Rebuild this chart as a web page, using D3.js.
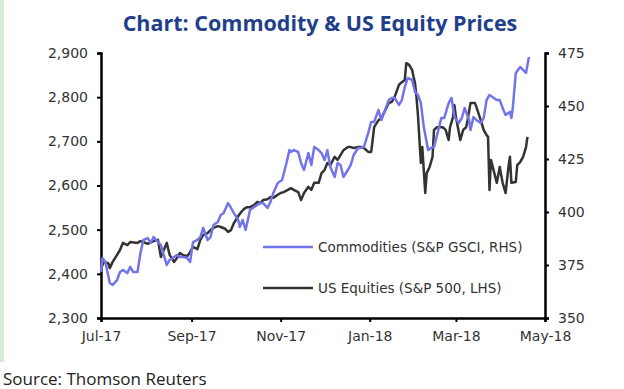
<!DOCTYPE html>
<html>
<head>
<meta charset="utf-8">
<script src="https://cdn.jsdelivr.net/npm/d3@7"></script>
<style>
  body { margin: 0; background: #fff; }
  svg { display: block; }
</style>
</head>
<body>
<div id="chart"></div>
<script>
// S&P 500 (left axis)
var eqDates = ["2017-07-01","2017-07-03","2017-07-06","2017-07-07","2017-07-09","2017-07-12","2017-07-14","2017-07-16","2017-07-19","2017-07-21",
  "2017-07-26","2017-07-28","2017-08-02","2017-08-06","2017-08-09","2017-08-11","2017-08-13","2017-08-15","2017-08-17","2017-08-20",
  "2017-08-22","2017-08-24","2017-08-26","2017-08-29","2017-08-31","2017-09-02","2017-09-05","2017-09-07","2017-09-09","2017-09-12",
  "2017-09-14","2017-09-16","2017-09-19","2017-09-21","2017-09-24","2017-09-26","2017-09-28","2017-09-30","2017-10-03","2017-10-05",
  "2017-10-07","2017-10-09","2017-10-11","2017-10-14","2017-10-16","2017-10-18","2017-10-20","2017-10-23","2017-10-25","2017-10-27",
  "2017-10-30","2017-11-01","2017-11-03","2017-11-06","2017-11-08","2017-11-10","2017-11-13","2017-11-15","2017-11-17","2017-11-20",
  "2017-11-22","2017-11-24","2017-11-27","2017-11-29","2017-12-01","2017-12-03","2017-12-05","2017-12-08","2017-12-10","2017-12-12",
  "2017-12-14","2017-12-17","2017-12-19","2017-12-21","2017-12-24","2017-12-26","2017-12-28","2017-12-31","2018-01-02","2018-01-03",
  "2018-01-04","2018-01-07","2018-01-09","2018-01-11","2018-01-14","2018-01-16","2018-01-18","2018-01-21","2018-01-23","2018-01-25",
  "2018-01-26","2018-01-28","2018-01-30","2018-01-31","2018-02-01","2018-02-02","2018-02-03","2018-02-05","2018-02-06","2018-02-08",
  "2018-02-09","2018-02-11","2018-02-13","2018-02-14","2018-02-16","2018-02-20","2018-02-22","2018-02-24","2018-02-25","2018-02-27",
  "2018-02-28","2018-03-01","2018-03-04","2018-03-06","2018-03-08","2018-03-09","2018-03-11","2018-03-14","2018-03-15","2018-03-18",
  "2018-03-20","2018-03-22","2018-03-23","2018-03-24","2018-03-25","2018-03-28","2018-03-29","2018-03-31","2018-04-02","2018-04-04",
  "2018-04-06","2018-04-07","2018-04-08","2018-04-11","2018-04-12","2018-04-14","2018-04-16","2018-04-18","2018-04-19"];
var eqValues = [2413,2427,2424,2413,2427,2443,2454,2470,2465,2472,
  2470,2474,2468,2474,2477,2438,2454,2470,2443,2427,
  2436,2447,2443,2440,2449,2461,2456,2477,2488,2492,
  2499,2504,2508,2506,2502,2495,2499,2515,2531,2540,
  2547,2551,2551,2556,2563,2560,2567,2569,2574,2572,
  2579,2583,2585,2590,2594,2590,2585,2567,2583,2597,
  2590,2606,2606,2628,2635,2651,2646,2665,2658,2669,
  2680,2687,2687,2685,2687,2687,2685,2676,2676,2703,
  2732,2748,2753,2766,2787,2789,2800,2828,2834,2839,
  2877,2873,2862,2846,2832,2800,2760,2651,2687,2583,
  2628,2642,2665,2726,2732,2732,2726,2703,2732,2755,
  2782,2755,2703,2726,2732,2748,2787,2787,2778,2748,
  2726,2714,2710,2590,2658,2619,2606,2642,2606,2583,
  2642,2665,2606,2608,2646,2653,2665,2687,2710];

// S&P GSCI (right axis)
var comDates = ["2017-07-01","2017-07-02","2017-07-04","2017-07-07","2017-07-09","2017-07-12","2017-07-14","2017-07-16","2017-07-19","2017-07-21",
  "2017-07-23","2017-07-26","2017-07-28","2017-07-30","2017-08-02","2017-08-04","2017-08-06","2017-08-09","2017-08-11","2017-08-13",
  "2017-08-15","2017-08-17","2017-08-20","2017-08-22","2017-08-24","2017-08-26","2017-08-29","2017-08-31","2017-09-02","2017-09-05",
  "2017-09-07","2017-09-09","2017-09-12","2017-09-14","2017-09-16","2017-09-19","2017-09-21","2017-09-23","2017-09-26","2017-09-28",
  "2017-09-30","2017-10-03","2017-10-04","2017-10-06","2017-10-08","2017-10-10","2017-10-11","2017-10-14","2017-10-16","2017-10-18",
  "2017-10-20","2017-10-23","2017-10-25","2017-10-27","2017-10-30","2017-11-02","2017-11-05","2017-11-07","2017-11-08","2017-11-10",
  "2017-11-13","2017-11-15","2017-11-17","2017-11-20","2017-11-22","2017-11-24","2017-11-27","2017-11-29","2017-12-01","2017-12-03",
  "2017-12-05","2017-12-08","2017-12-10","2017-12-12","2017-12-14","2017-12-17","2017-12-19","2017-12-21","2017-12-24","2017-12-26",
  "2017-12-28","2017-12-31","2018-01-02","2018-01-04","2018-01-07","2018-01-09","2018-01-11","2018-01-14","2018-01-16","2018-01-18",
  "2018-01-21","2018-01-23","2018-01-25","2018-01-27","2018-01-30","2018-02-01","2018-02-03","2018-02-05","2018-02-07","2018-02-10",
  "2018-02-12","2018-02-14","2018-02-17","2018-02-19","2018-02-21","2018-02-24","2018-02-26","2018-02-28","2018-03-03","2018-03-05",
  "2018-03-07","2018-03-10","2018-03-11","2018-03-13","2018-03-15","2018-03-18","2018-03-20","2018-03-22","2018-03-24","2018-03-27",
  "2018-03-29","2018-03-31","2018-04-02","2018-04-04","2018-04-07","2018-04-08","2018-04-09","2018-04-11","2018-04-14","2018-04-16",
  "2018-04-18","2018-04-20"];
var comValues = [371.7,378.3,376.4,366.5,365.6,367.9,371.7,372.6,371.2,374.1,
  371.7,371.7,380.7,386.8,387.7,385.4,388.2,385.8,384.4,379.7,
  375.0,377.4,378.8,379.7,378.8,378.8,378.3,376.4,385.8,386.8,
  388.2,392.5,386.8,388.2,393.9,395.3,398.6,399.5,404.2,401.9,
  399.5,396.2,392.9,396.2,391.5,397.6,400.9,402.4,403.3,404.2,
  404.2,401.9,404.7,409.0,413.7,415.1,423.1,429.2,428.3,429.2,
  428.3,423.1,419.8,427.8,422.2,430.7,429.2,427.8,424.5,429.2,
  421.2,416.5,423.1,422.2,416.5,419.8,422.2,426.9,430.2,430.2,
  430.7,437.3,442.5,442.5,448.1,443.4,447.2,452.8,453.8,453.8,
  450.5,452.8,459.0,463.2,462.3,456.6,455.2,451.4,440.1,429.2,
  430.2,430.7,438.7,444.3,444.3,451.4,453.8,444.8,442.0,444.3,
  449.1,443.4,438.7,444.8,443.4,442.0,444.3,452.8,455.2,453.8,
  452.8,452.8,449.1,445.8,447.2,444.3,449.5,465.6,468.4,467.0,
  465.6,473.1];

var leftTicks = [2300, 2400, 2500, 2600, 2700, 2800, 2900];
var rightTicks = [350, 375, 400, 425, 450, 475];
var monthTicks = ["2017-07-01","2017-09-01","2017-11-01","2018-01-01","2018-03-01","2018-05-01"];

var seriesNames = ["Commodities (S&P GSCI, RHS)", "US Equities (S&P 500, LHS)"];
var seriesColors = ["#7474ea", "#333333"];

var W = 624, H = 389;
var margin = {top: 53, left: 101, right: 79, bottom: 71};
var width = W - margin.left - margin.right,
    height = H - margin.top - margin.bottom;

var parse = d3.timeParse("%Y-%m-%d");
var fmtTick = d3.timeFormat("%b-%y");

var eqData = eqDates.map(function(d, i) { return {date: parse(d), value: eqValues[i]}; });
var comData = comDates.map(function(d, i) { return {date: parse(d), value: comValues[i]}; });

var svg = d3.select("#chart").append("svg")
    .attr("width", W)
    .attr("height", H);

// green strip on the left edge
svg.append("rect")
    .attr("x", 0).attr("y", 0)
    .attr("width", 4).attr("height", 362)
    .attr("fill", "#d6ebd6");

svg.append("text")
    .attr("x", margin.left + width / 2 - 3)
    .attr("y", 31)
    .attr("text-anchor", "middle")
    .style("font-family", "'Liberation Sans Narrow', 'Open Sans', sans-serif")
    .style("font-weight", "bold")
    .style("font-size", "21.5px")
    .attr("fill", "#1f3f8c")
    .text("Chart: Commodity & US Equity Prices");

var g = svg.append("g")
    .attr("transform", "translate(" + margin.left + "," + margin.top + ")");

var x = d3.scaleTime()
    .domain([parse("2017-07-01"), parse("2018-05-01")])
    .range([0, width]);

var yL = d3.scaleLinear().domain([2300, 2900]).range([height, 0]);
var yR = d3.scaleLinear().domain([350, 475]).range([height, 0]);

var axisFont = function(sel) {
  sel.selectAll("text")
    .style("font-family", "'DejaVu Sans', sans-serif")
    .style("font-size", "14px")
    .attr("fill", "#333");
  sel.selectAll("line").attr("stroke", "#000").attr("stroke-width", 2);
  sel.select(".domain").attr("stroke", "#000").attr("stroke-width", 2.5);
};

g.append("g")
    .call(d3.axisLeft(yL).tickValues(leftTicks).tickFormat(d3.format(",")).tickSizeOuter(0).tickSize(4).tickPadding(9))
    .call(axisFont);

g.append("g")
    .attr("transform", "translate(" + width + ",0)")
    .call(d3.axisRight(yR).tickValues(rightTicks).tickSizeOuter(0).tickSize(4).tickPadding(9))
    .call(axisFont);

g.append("g")
    .attr("transform", "translate(0," + height + ")")
    .call(d3.axisBottom(x).tickValues(monthTicks.map(parse)).tickFormat(fmtTick).tickSizeOuter(0).tickSize(4).tickPadding(9))
    .call(axisFont);

var lineL = d3.line().x(function(d) { return x(d.date); }).y(function(d) { return yL(d.value); });
var lineR = d3.line().x(function(d) { return x(d.date); }).y(function(d) { return yR(d.value); });

g.append("path")
    .datum(eqData)
    .attr("fill", "none")
    .attr("stroke", seriesColors[1])
    .attr("stroke-width", 2.5)
    .attr("stroke-linejoin", "round")
    .attr("d", lineL);

g.append("path")
    .datum(comData)
    .attr("fill", "none")
    .attr("stroke", seriesColors[0])
    .attr("stroke-width", 2.5)
    .attr("stroke-linejoin", "round")
    .attr("d", lineR);

// legend
var legend = svg.selectAll(".legend")
    .data(seriesNames)
  .enter().append("g")
    .attr("class", "legend")
    .attr("transform", function(d, i) { return "translate(263," + (247 + i * 41) + ")"; });

legend.append("line")
    .attr("x1", 0).attr("x2", 50)
    .attr("stroke", function(d, i) { return seriesColors[i]; })
    .attr("stroke-width", 2.5);

legend.append("text")
    .attr("x", 55)
    .attr("dy", "0.35em")
    .style("font-family", "'DejaVu Sans', sans-serif")
    .style("font-size", "13.5px")
    .attr("fill", "#333")
    .text(function(d) { return d; });

svg.append("text")
    .attr("x", 3)
    .attr("y", 385)
    .style("font-family", "'Open Sans', sans-serif")
    .style("font-size", "17px")
    .attr("fill", "#222")
    .text("Source: Thomson Reuters");
</script>
</body>
</html>
